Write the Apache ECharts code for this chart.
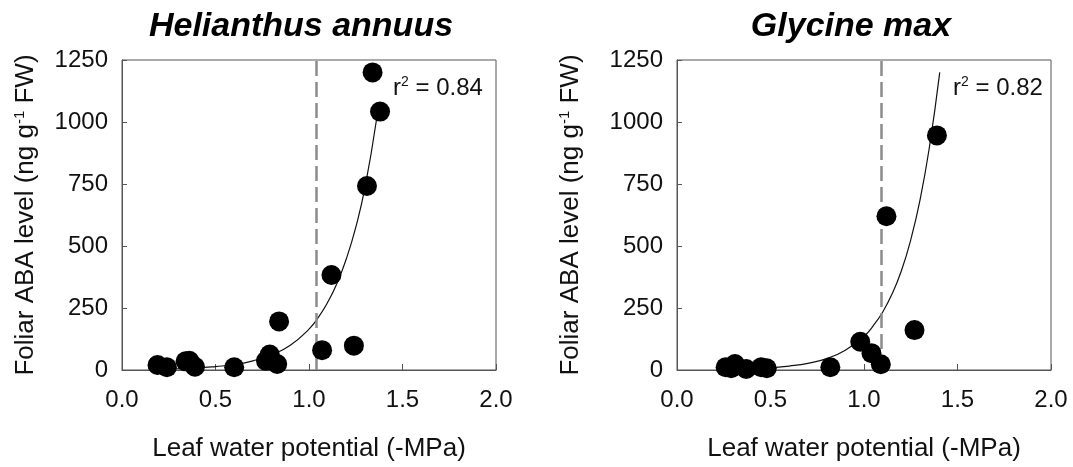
<!DOCTYPE html>
<html>
<head>
<meta charset="UTF-8">
<title>Foliar ABA vs leaf water potential</title>
<script src="https://cdn.jsdelivr.net/npm/echarts@6/dist/echarts.min.js"></script>
<style>
  html, body { margin: 0; padding: 0; background: #fff; }
  #main { width: 1073px; height: 467px; }
</style>
</head>
<body>
<div id="main"></div>
<script>
// Helianthus annuus: measured points
var helX = [0.19, 0.24, 0.34, 0.36, 0.39, 0.60, 0.77, 0.79, 0.83, 0.84, 1.07, 1.12, 1.24, 1.31, 1.34, 1.38];
var helY = [20, 11, 35, 37, 13, 11, 37, 62, 24, 196, 80, 383, 98, 742, 1200, 1042];
// fitted curve
var helFitX = [0.19, 0.3, 0.4, 0.5, 0.6, 0.7, 0.8, 0.9, 1.0, 1.05, 1.1, 1.15, 1.2, 1.25, 1.3, 1.36];
var helFitY = [3, 5, 8, 14, 22, 37, 61, 100, 165, 212, 273, 350, 449, 575, 738, 1005];
var helThreshold = 1.037;

// Glycine max
var glyX = [0.26, 0.29, 0.31, 0.37, 0.45, 0.48, 0.82, 0.98, 1.04, 1.09, 1.12, 1.27, 1.39];
var glyY = [11, 7, 24, 4, 11, 7, 11, 114, 68, 23, 620, 161, 946];
var glyFitX = [0.26, 0.4, 0.5, 0.6, 0.7, 0.8, 0.9, 1.0, 1.05, 1.1, 1.15, 1.2, 1.25, 1.3, 1.35, 1.405];
var glyFitY = [3, 5, 9, 16, 27, 46, 80, 136, 179, 234, 306, 400, 525, 687, 900, 1200];
var glyThreshold = 1.087;

var xTicks = ['0.0', '0.5', '1.0', '1.5', '2.0'];
var yTicks = [0, 250, 500, 750, 1000, 1250];

function pairs(xs, ys) {
  var out = [];
  for (var i = 0; i < xs.length; i++) out.push([xs[i], ys[i]]);
  return out;
}

var font = "'Liberation Sans', Arial, sans-serif";
var axisCol = '#555';

function xAxisOpt(idx) {
  return {
    gridIndex: idx, type: 'value', min: 0, max: 2, interval: 0.5,
    name: 'Leaf water potential (-MPa)', nameLocation: 'middle', nameGap: 66,
    nameTextStyle: { fontFamily: font, fontSize: 26, color: '#111' },
    axisLine: { lineStyle: { color: axisCol, width: 1 } },
    axisTick: { inside: true, length: 6, lineStyle: { color: axisCol } },
    axisLabel: { fontFamily: font, fontSize: 24, color: '#111', margin: 18,
      formatter: function (v) { return xTicks[Math.round(v / 0.5)]; } },
    splitLine: { show: false }
  };
}

function yAxisOpt(idx, gap) {
  return {
    gridIndex: idx, type: 'value', min: 0, max: 1250, interval: 250,
    name: 'Foliar ABA level (ng g{sup|-1} FW)', nameLocation: 'middle', nameGap: gap,
    nameTextStyle: { fontFamily: font, fontSize: 26, color: '#111',
      rich: { sup: { fontFamily: font, fontSize: 15, color: '#111', padding: [0, 0, 12, 0] } } },
    axisLine: { lineStyle: { color: axisCol, width: 1 } },
    axisTick: { inside: true, length: 5, lineStyle: { color: axisCol } },
    axisLabel: { fontFamily: font, fontSize: 24, color: '#111', margin: 14,
      formatter: function (v) { return yTicks.indexOf(v) >= 0 ? String(v) : ''; } },
    splitLine: { show: false }
  };
}

function fitSeries(idx, xs, ys, thr) {
  return {
    type: 'line', xAxisIndex: idx, yAxisIndex: idx, smooth: true,
    showSymbol: false, silent: true, z: 2,
    lineStyle: { color: '#111', width: 1.2 },
    data: pairs(xs, ys),
    markLine: {
      symbol: 'none', silent: true, label: { show: false },
      lineStyle: { type: [15, 6], color: '#8c8c8c', width: 2.5 },
      data: [{ xAxis: thr }]
    }
  };
}

function dotSeries(idx, xs, ys) {
  return {
    type: 'scatter', xAxisIndex: idx, yAxisIndex: idx, z: 5,
    symbolSize: 20, itemStyle: { color: '#000', opacity: 1 },
    data: pairs(xs, ys)
  };
}

var r2Rich = { sup: { fontFamily: font, fontSize: 14, color: '#111', padding: [0, 0, 12, 0] } };

var chart = echarts.init(document.getElementById('main'));
chart.setOption({
  backgroundColor: '#fff',
  animation: false,
  title: [
    { text: 'Helianthus annuus', left: 296, top: 5, textAlign: 'center',
      textStyle: { fontFamily: font, fontSize: 34, fontWeight: 'bold', fontStyle: 'italic', color: '#000' } },
    { text: 'Glycine max', left: 846, top: 5, textAlign: 'center',
      textStyle: { fontFamily: font, fontSize: 34, fontWeight: 'bold', fontStyle: 'italic', color: '#000' } },
    { text: 'r{sup|2} = 0.84', left: 388, top: 70,
      textStyle: { fontFamily: font, fontSize: 24, fontWeight: 'normal', color: '#111', rich: r2Rich } },
    { text: 'r{sup|2} = 0.82', left: 948, top: 70,
      textStyle: { fontFamily: font, fontSize: 24, fontWeight: 'normal', color: '#111', rich: r2Rich } }
  ],
  grid: [
    { left: 122, top: 60, width: 374, height: 311, show: true, borderColor: axisCol, borderWidth: 1 },
    { left: 677, top: 60, width: 374, height: 311, show: true, borderColor: axisCol, borderWidth: 1 }
  ],
  xAxis: [xAxisOpt(0), xAxisOpt(1)],
  yAxis: [yAxisOpt(0, 83), yAxisOpt(1, 93)],
  series: [
    fitSeries(0, helFitX, helFitY, helThreshold),
    dotSeries(0, helX, helY),
    fitSeries(1, glyFitX, glyFitY, glyThreshold),
    dotSeries(1, glyX, glyY)
  ]
});
</script>
</body>
</html>
